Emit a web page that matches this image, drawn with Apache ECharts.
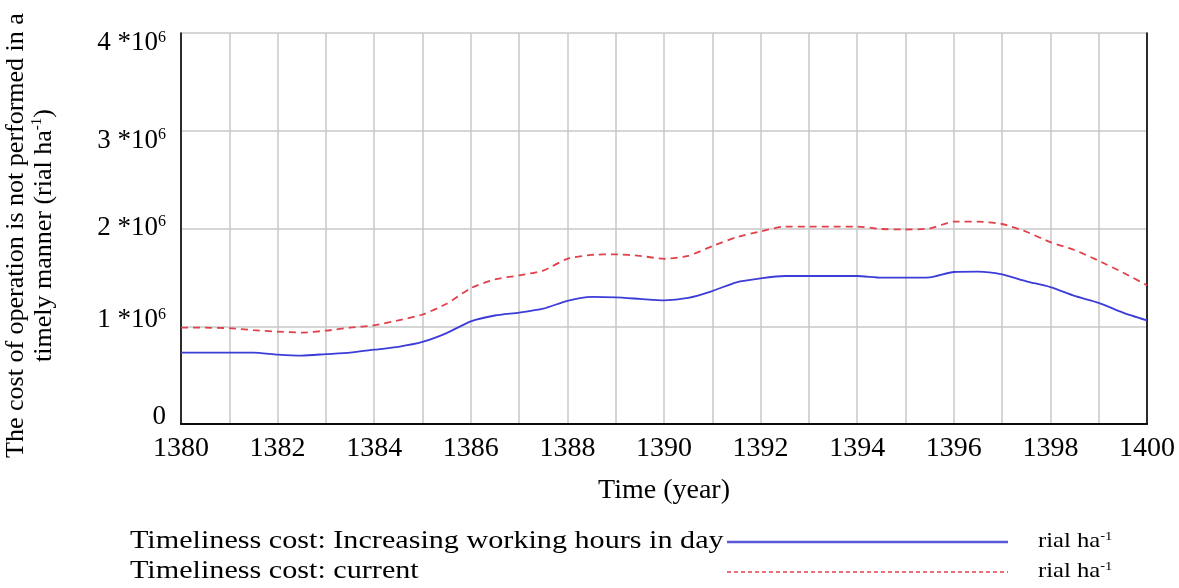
<!DOCTYPE html>
<html>
<head>
<meta charset="utf-8">
<script src="https://cdn.jsdelivr.net/npm/echarts@6/dist/echarts.min.js"></script>
<style>html,body{margin:0;padding:0;background:#fff}#c{width:1179px;height:588px}</style>
</head>
<body>
<div id="c"></div>
<script>
var years = [1380,1380.5,1381,1381.5,1382,1382.5,1383,1383.5,1384,1384.5,1385,1385.5,1386,1386.5,1387,1387.5,1388,1388.5,1389,1389.5,1390,1390.5,1391,1391.5,1392,1392.5,1393,1393.5,1394,1394.5,1395,1395.5,1396,1396.5,1397,1397.5,1398,1398.5,1399,1399.5,1400];
var increasingHours = [730000,730000,730000,730000,710000,700000,715000,730000,760000,790000,840000,930000,1050000,1110000,1140000,1180000,1260000,1300000,1295000,1280000,1265000,1290000,1360000,1450000,1490000,1514000,1514000,1514000,1514000,1497000,1497000,1500000,1555000,1558000,1530000,1460000,1400000,1310000,1240000,1140000,1060000];
var current = [985000,985000,980000,960000,945000,935000,955000,985000,1010000,1060000,1120000,1230000,1390000,1480000,1520000,1570000,1690000,1730000,1736000,1720000,1690000,1720000,1820000,1910000,1970000,2020000,2020000,2020000,2020000,1995000,1990000,2000000,2070000,2070000,2046000,1967000,1860000,1780000,1670000,1550000,1420000];
var yTickLabels = ['0','1 *10','2 *10','3 *10','4 *10'];
var seriesNames = ['Timeliness cost: Increasing working hours in day','Timeliness cost: current'];
var unitLabel = 'rial ha';

var FONT = '"Liberation Serif", "DejaVu Serif", serif';
function zip(xs, ys){ return xs.map(function(x,i){ return [x, ys[i]]; }); }

// small vertical nudges of the y tick labels, as in the reference
var yLabelShift = [-7, -6, -1, 10, 10];
var yRich = {};
yLabelShift.forEach(function(d, i){
  var pad = d > 0 ? [2*d,0,0,0] : [0,0,-2*d,0];
  yRich['b'+i] = {fontFamily:FONT, fontSize:27, color:'#000', padding:pad};
  yRich['s'+i] = {fontFamily:FONT, fontSize:16, color:'#000', verticalAlign:'top', padding:pad};
});

var chart = echarts.init(document.getElementById('c'));
var gridLine = {show:true, lineStyle:{color:'#c8c8c8', width:1.5}};
var blackLine = {show:true, lineStyle:{color:'#000', width:1.6}};
var legendTextStyle = {fontFamily:FONT, fontSize:26, fill:'#000'};
var unitRich = {a:{fontFamily:FONT, fontSize:22, fill:'#000'}, s:{fontFamily:FONT, fontSize:13, fill:'#000', verticalAlign:'top'}};
chart.setOption({
  animation:false,
  backgroundColor:'#fff',
  grid:{left:181, right:32, top:33, bottom:164, containLabel:false, outerBoundsMode:'none'},
  xAxis:[{
    type:'value', min:1380, max:1400, interval:2,
    name:'Time (year)', nameLocation:'middle', nameGap:53,
    nameTextStyle:{fontFamily:FONT, fontSize:28, color:'#000'},
    axisLine:blackLine,
    axisTick:{show:false},
    minorTick:{show:false, splitNumber:2},
    minorSplitLine:gridLine,
    splitLine:gridLine,
    axisLabel:{fontFamily:FONT, fontSize:28, color:'#000', margin:11, formatter:function(v){ return String(v); }}
  },{
    type:'value', min:1380, max:1400, interval:2, position:'top',
    axisLine:blackLine, axisTick:{show:false}, axisLabel:{show:false}, splitLine:{show:false}
  }],
  yAxis:[{
    type:'value', min:0, max:4000000, interval:1000000,
    name:'The cost of operation is not performed in a\n{t|timely manner (rial ha}{s|-1}{t|)}',
    nameLocation:'middle', nameGap:123, nameRotate:90,
    nameTextStyle:{fontFamily:FONT, fontSize:26, color:'#000', lineHeight:28, padding:[0,14,0,0],
      rich:{t:{fontFamily:FONT, fontSize:26, color:'#000'}, s:{fontFamily:FONT, fontSize:15, color:'#000', verticalAlign:'top', lineHeight:28}}},
    axisLine:blackLine,
    axisTick:{show:false},
    splitLine:gridLine,
    axisLabel:{
      margin:15, color:'#000',
      formatter:function(v){ var i = Math.round(v/1000000); return i===0 ? '{b0|'+yTickLabels[0]+'}' : '{b'+i+'|'+yTickLabels[i]+'}{s'+i+'|6}'; },
      rich:yRich
    }
  },{
    type:'value', min:0, max:4000000, interval:1000000, position:'right',
    axisLine:blackLine, axisTick:{show:false}, axisLabel:{show:false}, splitLine:{show:false}
  }],
  series:[
    {name:seriesNames[0], type:'line', data:zip(years, increasingHours), showSymbol:false, smooth:0.2,
     lineStyle:{color:'#3c3cd8', width:1.8}},
    {name:seriesNames[1], type:'line', data:zip(years, current), showSymbol:false, smooth:0.2,
     lineStyle:{color:'#e2404a', width:1.8, type:[7,5]}}
  ],
  graphic:[
    {type:'text', x:130, y:528, scaleX:1.16, style:Object.assign({text:seriesNames[0]}, legendTextStyle)},
    {type:'line', shape:{x1:727, y1:542, x2:1008, y2:542}, style:{stroke:'#5a5ad8', lineWidth:2.5}},
    {type:'text', x:1038, y:530, scaleX:1.12, style:{text:'{a|'+unitLabel+'}{s|-1}', rich:unitRich}},
    {type:'text', x:130, y:558, scaleX:1.16, style:Object.assign({text:seriesNames[1]}, legendTextStyle)},
    {type:'line', shape:{x1:727, y1:572, x2:1008, y2:572}, style:{stroke:'#e2404a', lineWidth:1.5, lineDash:[4,3]}},
    {type:'text', x:1038, y:560, scaleX:1.12, style:{text:'{a|'+unitLabel+'}{s|-1}', rich:unitRich}}
  ]
});
</script>
</body>
</html>
